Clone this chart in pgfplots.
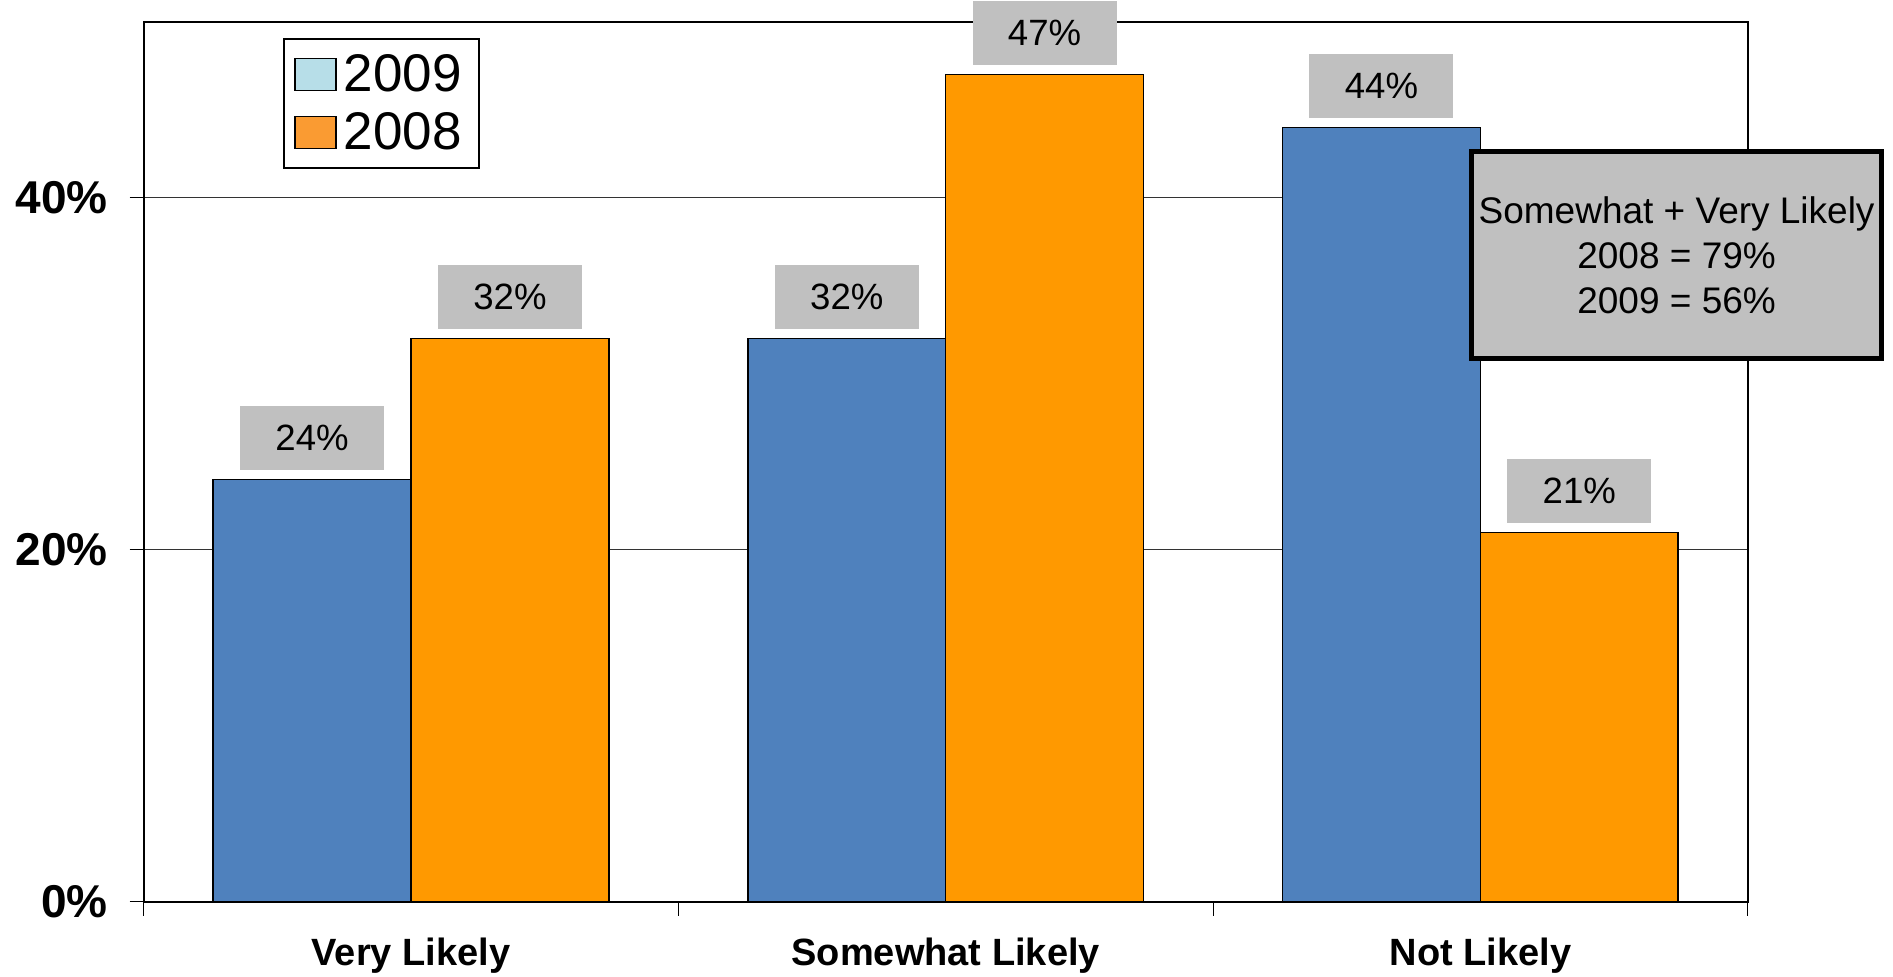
\documentclass[border=0pt]{standalone}
\usepackage{pgfplots}
\pgfplotsset{compat=1.18}
\usepackage{fontspec}
\setmainfont{Liberation Sans}
\definecolor{barblue}{RGB}{79,129,189}
\definecolor{barorange}{RGB}{255,153,0}
\definecolor{legcyan}{RGB}{183,222,232}
\definecolor{legorange}{RGB}{250,155,50}
\definecolor{labelgray}{RGB}{192,192,192}
\newcommand{\legfont}{\fontsize{26.5}{29}\selectfont}
\begin{document}
\begin{tikzpicture}
\begin{axis}[
  at={(0,0)}, anchor=south west,
  scale only axis, width=802pt, height=440pt,
  xmin=-0.5, xmax=2.5, ymin=0, ymax=50,
  clip=false,
  /pgf/number format/assume math mode=true,
  axis line style={line width=1pt},
  xtick={-0.5,0.5,1.5,2.5}, xticklabels={},
  extra x ticks={0,1,2},
  extra x tick labels={Very Likely,Somewhat Likely,Not Likely},
  extra x tick style={major tick length=0pt, grid=none,
    xticklabel style={font=\fontsize{19}{22}\selectfont\bfseries, anchor=base, yshift=-32pt}},
  ytick={0,20,40}, yticklabels={0\%,20\%,40\%},
  yticklabel style={font=\fontsize{23}{26}\selectfont\bfseries, anchor=east, inner xsep=0pt, xshift=-10.9pt},
  tick align=outside, major tick length=7pt,
  xtick pos=left, ytick pos=left,
  tick style={line width=0.5pt, black},
  ymajorgrids, grid style={line width=0.5pt, black!80},
  legend image code/.code={\draw[#1] (0pt,-8pt) rectangle (20.5pt,8pt);},
  legend style={at={(0,1)}, anchor=north west, xshift=69.8pt, yshift=-8.3pt,
    draw=black, line width=1pt, font=\legfont,
    inner xsep=5pt, inner ysep=5.5pt,
    cells={anchor=west}, row sep=5pt,
    nodes={inner xsep=3.5pt}},
  every node near coord/.append style={anchor=south, yshift=4.5pt, fill=labelgray, draw=none,
    minimum width=72pt, minimum height=32pt, inner sep=0pt, text=black,
    font=\fontsize{18.3}{20}\selectfont},
]
\addplot[ybar, bar width=0.37, bar shift=0pt, fill=barblue, draw=black, line width=0.75pt,
  nodes near coords={\pgfmathprintnumber{\pgfplotspointmeta}\%}, forget plot]
  coordinates {(-0.185,24) (0.815,32) (1.815,44)};
\addplot[ybar, bar width=0.37, bar shift=0pt, fill=barorange, draw=black, line width=0.75pt,
  nodes near coords={\pgfmathprintnumber{\pgfplotspointmeta}\%}, forget plot]
  coordinates {(0.185,32) (1.185,47) (2.185,21)};
\addlegendimage{fill=legcyan, draw=black, line width=0.75pt}
\addlegendentry{\legfont 2009}
\addlegendimage{fill=legorange, draw=black, line width=0.75pt}
\addlegendentry{\legfont 2008}
\node[draw=black, line width=2.5pt, fill=labelgray, minimum width=205pt, minimum height=103.5pt,
  align=center, font=\fontsize{18.5}{22.5}\selectfont, inner sep=0pt]
  at (axis cs:2.367,36.76) {Somewhat + Very Likely\\2008 = 79\%\\2009 = 56\%};
\end{axis}
\pgfresetboundingbox
\path (-71.85pt,-37.55pt) rectangle (874.65pt,450.95pt);
\end{tikzpicture}
\end{document}
